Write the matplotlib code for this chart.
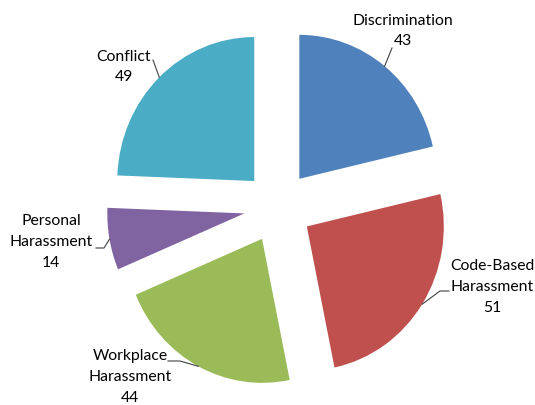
import numpy as np
import matplotlib.pyplot as plt

# Complaint categories and counts
categories = ['Discrimination', 'Code-Based\nHarassment', 'Workplace\nHarassment',
              'Personal\nHarassment', 'Conflict']
counts = [43, 51, 44, 14, 49]
colors = ['#4F81BD', '#C0504D', '#9BBB59', '#8064A2', '#4BACC6']

plt.rcParams['font.family'] = ['Lato', 'DejaVu Sans']

W, H = 535, 405
fig = plt.figure(figsize=(W / 100, H / 100), dpi=100)
ax = fig.add_axes([0, 0, 1, 1])

# pixel geometry of the pie
cx, cy = 278, 207
sx, sy = 137, 144


def to_data(px, py):
    return (px - cx) / sx, (cy - py) / sy


wedges, _ = ax.pie(counts, colors=colors, startangle=90, counterclock=False,
                   explode=[0.25] * len(counts), radius=1,
                   wedgeprops=dict(linewidth=0))

ax.set_aspect('auto')
ax.set_xlim(-cx / sx, (W - cx) / sx)
ax.set_ylim(-(H - cy) / sy, cy / sy)
ax.axis('off')

# label centre and leader-line path (pixels) for each slice
label_pos = [(403, 31), (492, 287), (130, 377), (51, 242), (124, 67)]
leader_path = [
    [(392, 48)],
    [(440, 291), (449, 291)],
    [(180, 361), (168, 361)],
    [(104, 248), (96, 248)],
    [(153, 60)],
]

for w, name, n, pos, path in zip(wedges, categories, counts, label_pos, leader_path):
    mid = np.deg2rad((w.theta1 + w.theta2) / 2)
    ox, oy = w.center
    ax_pt = (ox + w.r * np.cos(mid), oy + w.r * np.sin(mid))
    pts = [ax_pt] + [to_data(*p) for p in path]
    xs, ys = zip(*pts)
    ax.plot(xs, ys, color='#404040', linewidth=0.8)
    tx, ty = to_data(*pos)
    ax.text(tx, ty, f'{name}\n{n}', ha='center', va='center',
            fontsize=11.3, color='#000000', linespacing=1.62)

fig.savefig('out.png', dpi=100)
